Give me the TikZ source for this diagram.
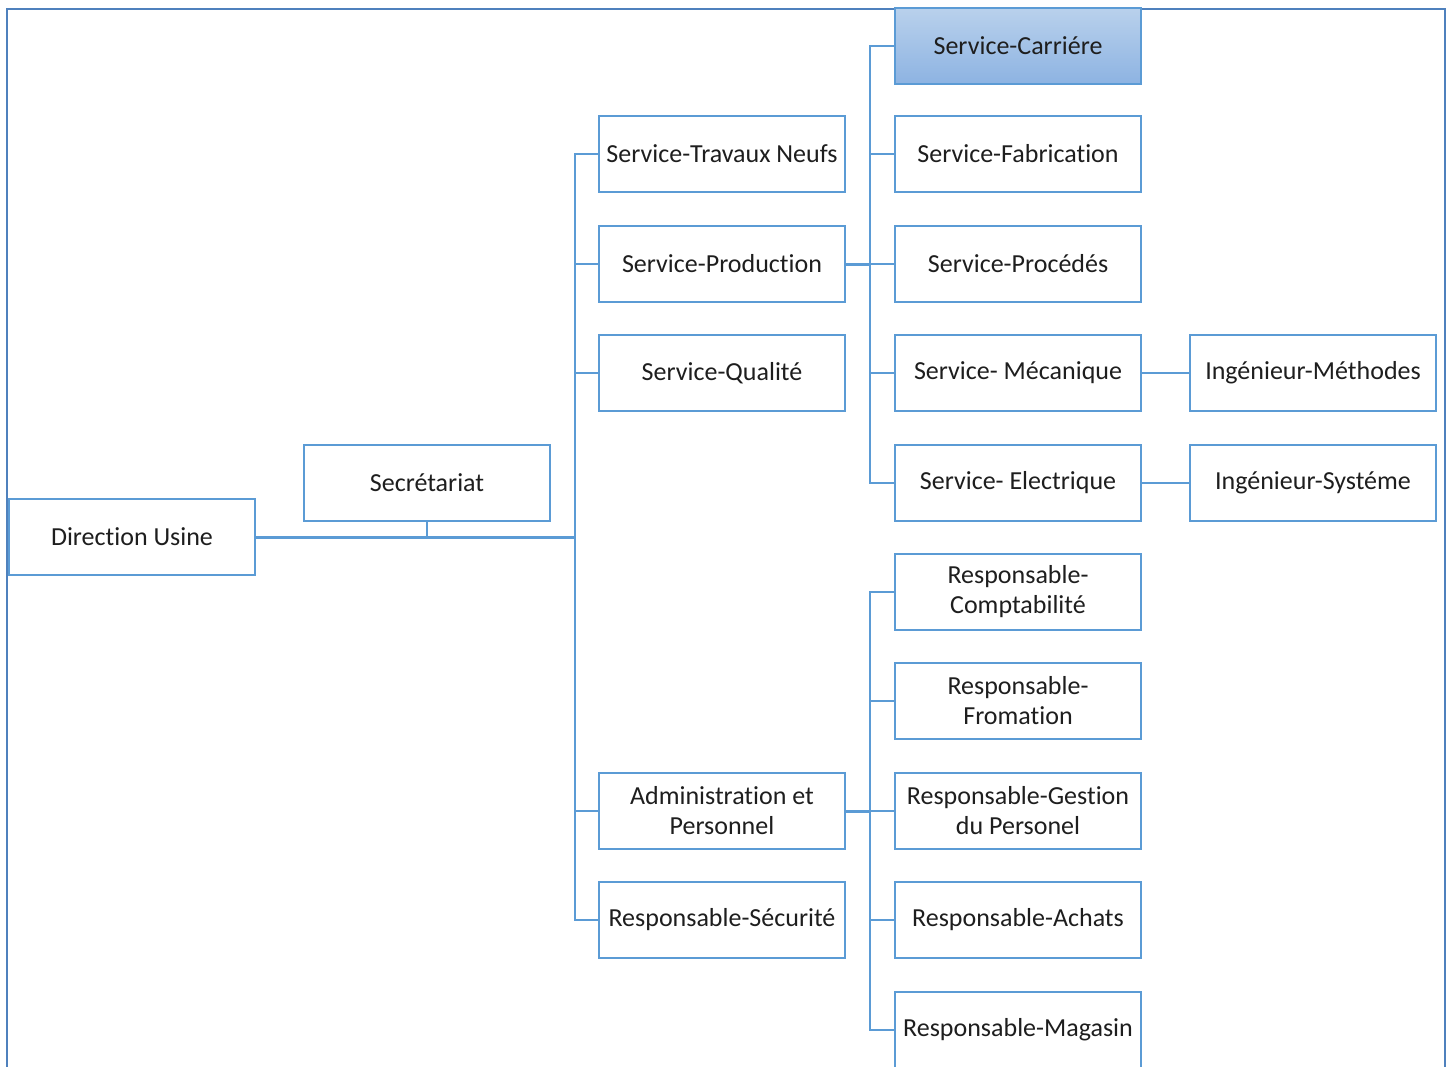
\documentclass[tikz,border=0pt]{standalone}
\usepackage{fontspec}
\setmainfont[Ligatures=NoCommon]{Carlito}
\definecolor{boxblue}{HTML}{5B9BD5}
\definecolor{frameblue}{HTML}{4F81BD}
\definecolor{linkblue}{HTML}{5B9BD5}
\definecolor{txt}{HTML}{1E1E1E}
\definecolor{gtop}{HTML}{B9D1EC}
\definecolor{gbot}{HTML}{8DB3E2}
\begin{document}
\begin{tikzpicture}[x=1pt,y=-1pt,
  orgbox/.style={draw=boxblue,line width=2pt,fill=white,minimum width=246pt,minimum height=76pt,
    inner sep=2pt,align=center,text=txt,font=\fontsize{26}{30}\selectfont},
  hlbox/.style={orgbox,top color=gtop,bottom color=gbot},
  link/.style={draw=linkblue,line width=2pt},
  trunk/.style={draw=linkblue,line width=3pt}]
\useasboundingbox (0,0) rectangle (1453,1066);
\fill[white] (0,0) rectangle (1453,1066);
% frame
\draw[frameblue,line width=2.8pt] (7,1070) -- (7,9) -- (1445,9) -- (1445,1070);

% nodes
\node[orgbox] (dir) at (132,537) {Direction Usine};
\node[orgbox] (sec) at (427,483) {Secrétariat};

\node[orgbox] (tn) at (722,154) {Service-Travaux Neufs};
\node[orgbox] (prod) at (722,264) {Service-Production};
\node[orgbox] (qual) at (722,373) {Service-Qualité};
\node[orgbox] (adm) at (722,811) {Administration et\\Personnel};
\node[orgbox] (secu) at (722,920) {Responsable-Sécurité};

\node[hlbox] (car) at (1018,46) {Service-Carriére};
\node[orgbox] (fab) at (1018,154) {Service-Fabrication};
\node[orgbox] (proc) at (1018,264) {Service-Procédés};
\node[orgbox] (meca) at (1018,373) {Service- Mécanique};
\node[orgbox] (elec) at (1018,483) {Service- Electrique};

\node[orgbox] (compt) at (1018,592) {Responsable-\\Comptabilité};
\node[orgbox] (form) at (1018,701) {Responsable-\\Fromation};
\node[orgbox] (gest) at (1018,811) {Responsable-Gestion\\du Personel};
\node[orgbox] (ach) at (1018,920) {Responsable-Achats};
\node[orgbox] (mag) at (1018,1030) {Responsable-Magasin};

\node[orgbox] (meth) at (1313,373) {Ingénieur-Méthodes};
\node[orgbox] (sys) at (1313,483) {Ingénieur-Systéme};

% connector points
\coordinate (t) at (575,537);
\coordinate (p) at (870,264);
\coordinate (a) at (870,811);

% connectors
\draw[trunk] (dir.east) -- (t);
\draw[link] (sec.south) -- (sec.south |- t);
\foreach \c in {tn,prod,qual,adm,secu} \draw[link] (t) |- (\c.west);
\draw[trunk] (prod.east) -- (p);
\foreach \c in {car,fab,proc,meca,elec} \draw[link] (p) |- (\c.west);
\draw[trunk] (adm.east) -- (a);
\foreach \c in {compt,form,gest,ach,mag} \draw[link] (a) |- (\c.west);
\draw[link] (meca.east) -- (meth.west);
\draw[link] (elec.east) -- (sys.west);
\end{tikzpicture}
\end{document}
